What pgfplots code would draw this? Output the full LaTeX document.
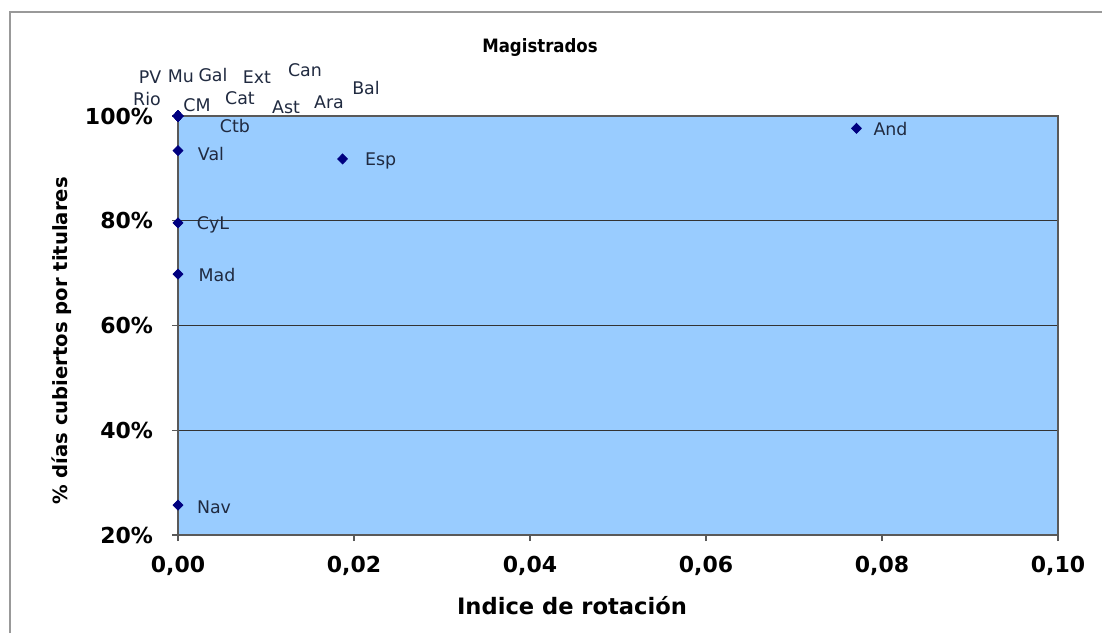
\documentclass[border=0pt]{standalone}
\usepackage{pgfplots}
\pgfplotsset{compat=1.18}
\usepackage{pgfplotstable}
\usepackage{fontspec}
\setmainfont{DejaVu Sans}
\newfontfamily\condfont{DejaVu Sans Condensed}
\definecolor{plotbg}{RGB}{153,204,255}
\definecolor{mk}{RGB}{0,0,128}
\definecolor{lab}{RGB}{32,42,64}
\pgfplotstableread{
x y lab dx dy
0 100 Rio -15.5 8.5
0 100 PV -14 19.5
0 100 Mu 1.5 20
0 100 Gal 17.5 20.5
0 100 Ext 39.5 19.5
0 100 Can 63.5 23
0 100 Bal 94 14
0 100 CM 9.5 5.5
0 100 Cat 31 9
0 100 Ast 54 4.5
0 100 Ara 75.5 7
0 100 Ctb 28.5 -5
0 93.4 Val 16.5 -1.5
0 79.6 CyL 17.5 -1
0 69.8 Mad 19.5 -0.5
0 25.7 Nav 18 -1
0.0187 91.8 Esp 19 -1
0.0771 97.65 And 17 -0.5
}\datatable
\begin{document}
\begin{tikzpicture}
\path[use as bounding box] (0,0) rectangle (551pt,316.5pt);
\draw[gray!80, line width=1pt] (5pt,0) -- (5pt,310.5pt) -- (551pt,310.5pt);
\begin{axis}[
  at={(89pt,49pt)}, anchor=south west,
  scale only axis, width=440pt, height=209.5pt,
  xmin=0, xmax=0.1, ymin=20, ymax=100,
  xtick={0,0.02,...,0.1}, ytick={20,40,60,80,100},
  axis background/.style={fill=plotbg},
  axis line style={draw=gray!70!black, line width=0.6pt},
  tick align=outside, tick pos=left, major tick length=3pt,
  tick style={draw=gray!70!black, line width=0.6pt},
  ymajorgrids, grid style={draw=black!80, line width=0.5pt},
  clip=false,
  /pgf/number format/assume math mode=true,
  xticklabel style={font=\bfseries\fontsize{11}{13}\selectfont, yshift=-4pt, /pgf/number format/.cd, fixed, fixed zerofill, precision=2, use comma},
  yticklabel style={font=\bfseries\fontsize{11}{13}\selectfont, xshift=-6pt},
  yticklabel={\pgfmathprintnumber[fixed,precision=0]{\tick}\%},
]
\addplot[only marks, mark=diamond*, mark size=2.5pt, color=mk,
  mark options={xscale=1.3},
  visualization depends on={\thisrow{dx} \as \dx},
  visualization depends on={\thisrow{dy} \as \dy},
  point meta=explicit symbolic,
  nodes near coords,
  nodes near coords style={anchor=center, xshift=\dx pt, yshift=\dy pt, text=lab, font=\fontsize{8.7}{10}\selectfont, inner sep=0pt},
] table[x=x, y=y, meta=lab] {\datatable};
\end{axis}
\node[font=\condfont\bfseries\fontsize{9.2}{11}\selectfont] at (270pt,293pt) {Magistrados};
\node[font=\bfseries\fontsize{11.3}{13}\selectfont] at (286pt,13.5pt) {Indice de rotación};
\node[font=\bfseries\fontsize{9.8}{11}\selectfont, rotate=90] at (31pt,146pt) {\% días cubiertos por titulares};
\end{tikzpicture}
\end{document}
